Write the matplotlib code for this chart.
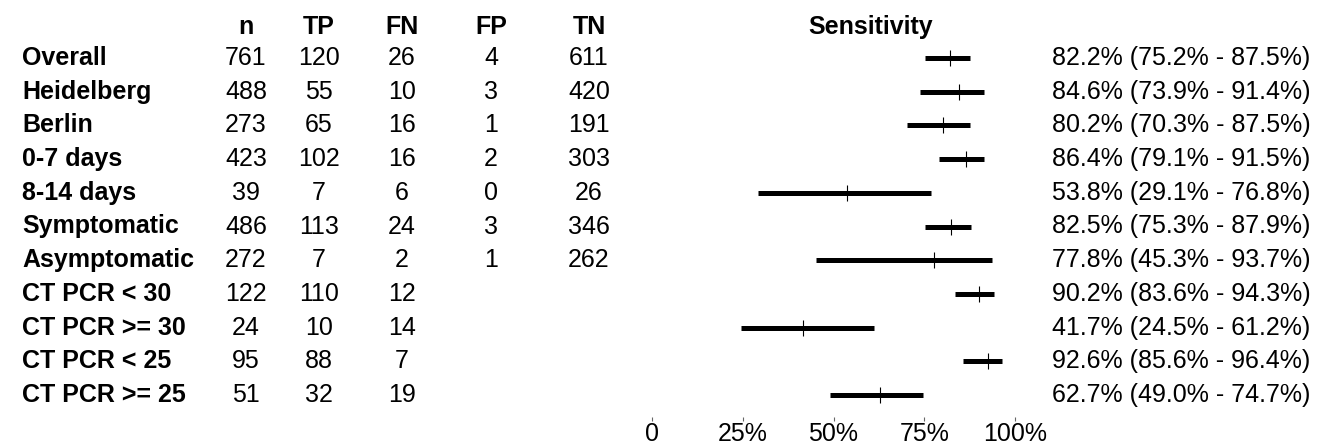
import matplotlib
matplotlib.use("Agg")
import matplotlib.pyplot as plt

plt.rcParams["font.family"] = ["Liberation Sans", "DejaVu Sans"]

groups = ["Overall", "Heidelberg", "Berlin", "0-7 days", "8-14 days", "Symptomatic",
          "Asymptomatic", "CT PCR < 30", "CT PCR >= 30", "CT PCR < 25", "CT PCR >= 25"]
n_vals = [761, 488, 273, 423, 39, 486, 272, 122, 24, 95, 51]
tp_vals = [120, 55, 65, 102, 7, 113, 7, 110, 10, 88, 32]
fn_vals = [26, 10, 16, 16, 6, 24, 2, 12, 14, 7, 19]
fp_vals = [4, 3, 1, 2, 0, 3, 1, None, None, None, None]
tn_vals = [611, 420, 191, 303, 26, 346, 262, None, None, None, None]
sens = [82.2, 84.6, 80.2, 86.4, 53.8, 82.5, 77.8, 90.2, 41.7, 92.6, 62.7]
ci_lo = [75.2, 73.9, 70.3, 79.1, 29.1, 75.3, 45.3, 83.6, 24.5, 85.6, 49.0]
ci_hi = [87.5, 91.4, 87.5, 91.5, 76.8, 87.9, 93.7, 94.3, 61.2, 96.4, 74.7]
tick_vals = [0, 25, 50, 75, 100]
tick_labels = ["0", "25%", "50%", "75%", "100%"]

W, H = 1326, 444
fig = plt.figure(figsize=(W / 100, H / 100), dpi=100)

# row i sits at pixel y0 + dy*i from the top
y0, dy = 58.0, 33.7
def row_of(px):
    return (px - y0) / dy

# text layer across the whole figure, x in pixels
ax = fig.add_axes([0, 0, 1, 1])
ax.set_xlim(0, W)
ax.set_ylim(row_of(H), row_of(0))
ax.axis("off")

fs = 18
cols = [("n", 246, n_vals), ("TP", 319, tp_vals), ("FN", 402, fn_vals),
        ("FP", 491, fp_vals), ("TN", 589, tn_vals)]
hy = row_of(27)
for name, x, vals in cols:
    ax.text(x, hy, name, ha="center", va="center", fontsize=fs, fontweight="bold")
    for i, v in enumerate(vals):
        if v is not None:
            ax.text(x, i, str(v), ha="center", va="center", fontsize=fs)
ax.text(871, hy, "Sensitivity", ha="center", va="center", fontsize=fs, fontweight="bold")

for i, g in enumerate(groups):
    ax.text(22, i, g, ha="left", va="center", fontsize=fs, fontweight="bold")
    ax.text(1052, i, f"{sens[i]:.1f}% ({ci_lo[i]:.1f}% - {ci_hi[i]:.1f}%)",
            ha="left", va="center", fontsize=fs)

# forest panel: 0% at x=652px, 100% at x=1015px
top_px, bot_px = 40, 417
ax2 = fig.add_axes([652 / W, 1 - bot_px / H, (1015 - 652) / W, (bot_px - top_px) / H])
ax2.set_xlim(0, 100)
ax2.set_ylim(row_of(bot_px), row_of(top_px))
ax2.patch.set_visible(False)
for s in ax2.spines.values():
    s.set_visible(False)
ax2.set_yticks([])
ax2.set_xticks(tick_vals)
ax2.set_xticklabels(tick_labels, fontsize=fs)
ax2.tick_params(axis="x", length=3, width=0.8, pad=0.5, color="#666666")

for i in range(len(groups)):
    ax2.plot([ci_lo[i], ci_hi[i]], [i, i], color="black", lw=3.6, solid_capstyle="butt")
    ax2.plot(sens[i], i, marker="|", color="black", ms=11, mew=0.8)

fig.savefig("out.png", dpi=100)
